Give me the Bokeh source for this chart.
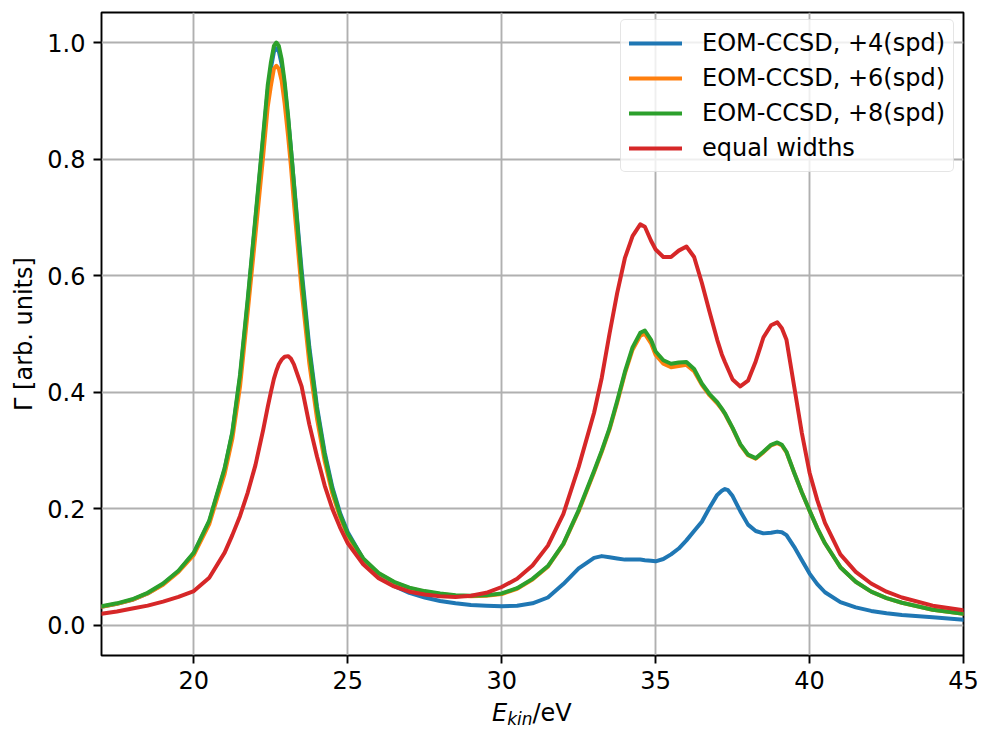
from bokeh.plotting import figure
from bokeh.models import Range1d, FixedTicker, PrintfTickFormatter, Legend, LegendItem, Div
from bokeh.layouts import column
from bokeh.embed import file_html
from bokeh.resources import INLINE

# Kinetic energy grid (eV)
energy = [17.0, 17.5, 18.0, 18.5, 19.0, 19.5, 20.0, 20.5, 21.0, 21.25,
          21.5, 21.75, 22.0, 22.25, 22.4, 22.5, 22.6, 22.68, 22.76, 22.85,
          22.95, 23.06, 23.15, 23.25, 23.5, 23.75, 24.0, 24.25, 24.5, 24.75,
          25.0, 25.5, 26.0, 26.5, 27.0, 27.5, 28.0, 28.5, 29.0, 29.5,
          30.0, 30.5, 31.0, 31.5, 32.0, 32.5, 33.0, 33.25, 33.5, 33.75,
          34.0, 34.25, 34.5, 34.65, 34.85, 35.0, 35.25, 35.5, 35.75, 36.0,
          36.25, 36.5, 36.75, 37.0, 37.15, 37.25, 37.35, 37.5, 37.75, 38.0,
          38.25, 38.5, 38.75, 38.95, 39.1, 39.25, 39.5, 39.75, 40.0, 40.25,
          40.5, 41.0, 41.5, 42.0, 42.5, 43.0, 44.0, 45.0]

eom_4spd = [0.032, 0.037, 0.044, 0.055, 0.071, 0.093, 0.124, 0.178, 0.268, 0.330,
            0.425, 0.555, 0.695, 0.835, 0.918, 0.955, 0.984, 0.990, 0.985, 0.963,
            0.925, 0.870, 0.820, 0.760, 0.610, 0.478, 0.375, 0.297, 0.237, 0.193,
            0.160, 0.114, 0.086, 0.068, 0.056, 0.048, 0.042, 0.038, 0.035, 0.034,
            0.033, 0.034, 0.038, 0.048, 0.071, 0.098, 0.116, 0.119, 0.117, 0.115,
            0.113, 0.113, 0.113, 0.112, 0.111, 0.110, 0.114, 0.122, 0.132, 0.146,
            0.162, 0.178, 0.202, 0.224, 0.231, 0.234, 0.232, 0.222, 0.196, 0.173,
            0.162, 0.158, 0.159, 0.161, 0.160, 0.155, 0.135, 0.112, 0.089, 0.071,
            0.057, 0.040, 0.031, 0.025, 0.021, 0.018, 0.014, 0.010]

eom_6spd = [0.032, 0.037, 0.044, 0.055, 0.070, 0.092, 0.121, 0.174, 0.260, 0.320,
            0.410, 0.538, 0.670, 0.805, 0.890, 0.925, 0.955, 0.960, 0.955, 0.935,
            0.895, 0.840, 0.790, 0.725, 0.575, 0.450, 0.355, 0.282, 0.226, 0.186,
            0.154, 0.112, 0.089, 0.074, 0.064, 0.058, 0.054, 0.051, 0.050, 0.051,
            0.054, 0.063, 0.079, 0.101, 0.139, 0.196, 0.263, 0.298, 0.336, 0.382,
            0.432, 0.473, 0.497, 0.500, 0.484, 0.464, 0.449, 0.443, 0.445, 0.447,
            0.436, 0.413, 0.395, 0.381, 0.371, 0.363, 0.353, 0.338, 0.310, 0.292,
            0.286, 0.297, 0.309, 0.313, 0.309, 0.297, 0.262, 0.228, 0.197, 0.167,
            0.141, 0.100, 0.075, 0.058, 0.047, 0.039, 0.027, 0.020]

eom_8spd = [0.033, 0.038, 0.045, 0.056, 0.072, 0.094, 0.125, 0.180, 0.270, 0.332,
            0.430, 0.560, 0.700, 0.840, 0.927, 0.965, 0.994, 1.000, 0.994, 0.972,
            0.932, 0.875, 0.820, 0.757, 0.600, 0.470, 0.370, 0.292, 0.233, 0.190,
            0.157, 0.115, 0.090, 0.075, 0.065, 0.059, 0.055, 0.052, 0.051, 0.052,
            0.055, 0.064, 0.080, 0.102, 0.140, 0.198, 0.265, 0.300, 0.338, 0.385,
            0.435, 0.477, 0.502, 0.506, 0.490, 0.470, 0.455, 0.449, 0.451, 0.452,
            0.440, 0.415, 0.397, 0.383, 0.372, 0.364, 0.354, 0.339, 0.311, 0.293,
            0.287, 0.298, 0.310, 0.314, 0.310, 0.298, 0.262, 0.228, 0.197, 0.167,
            0.141, 0.100, 0.075, 0.058, 0.047, 0.039, 0.027, 0.020]

equal_widths = [0.020, 0.024, 0.029, 0.034, 0.041, 0.049, 0.059, 0.082, 0.125, 0.155,
                0.188, 0.228, 0.275, 0.335, 0.375, 0.400, 0.423, 0.437, 0.448, 0.456,
                0.461, 0.462, 0.458, 0.448, 0.410, 0.345, 0.290, 0.240, 0.200, 0.168,
                0.141, 0.105, 0.081, 0.067, 0.058, 0.053, 0.050, 0.049, 0.051, 0.056,
                0.066, 0.080, 0.103, 0.137, 0.191, 0.272, 0.365, 0.425, 0.500, 0.570,
                0.630, 0.668, 0.688, 0.684, 0.660, 0.645, 0.632, 0.632, 0.643, 0.650,
                0.632, 0.588, 0.538, 0.490, 0.465, 0.452, 0.440, 0.422, 0.410, 0.420,
                0.453, 0.494, 0.515, 0.520, 0.510, 0.490, 0.410, 0.330, 0.262, 0.215,
                0.176, 0.122, 0.092, 0.072, 0.058, 0.048, 0.034, 0.026]

series_labels = ["EOM-CCSD, +4(spd)", "EOM-CCSD, +6(spd)", "EOM-CCSD, +8(spd)", "equal widths"]
series_colors = ["#1f77b4", "#ff7f0e", "#2ca02c", "#d62728"]
x_ticks = [20, 25, 30, 35, 40, 45]
y_ticks = [0.0, 0.2, 0.4, 0.6, 0.8, 1.0]

all_series = [eom_4spd, eom_6spd, eom_8spd, equal_widths]
for s in all_series:
    assert len(s) == len(energy), (len(s), len(energy))

FONT = "DejaVu Sans"
FS = "24px"

p = figure(width=981, height=699, output_backend="svg", toolbar_location=None,
           x_range=Range1d(17, 45), y_range=Range1d(-0.0515, 1.0515),
           min_border_left=101, min_border_right=18, min_border_top=12, min_border_bottom=44)
p.background_fill_color = "white"
p.border_fill_color = "white"
p.outline_line_color = "black"
p.outline_line_width = 1.9

renderers = []
for ys, lab, col in zip(all_series, series_labels, series_colors):
    r = p.line(energy, ys, line_color=col, line_width=4.0, line_join="round", line_cap="round")
    renderers.append((lab, [r]))

for g in (p.xgrid, p.ygrid):
    g.grid_line_color = "#b0b0b0"
    g.grid_line_width = 1.9
p.xgrid.ticker = FixedTicker(ticks=x_ticks)
p.ygrid.ticker = FixedTicker(ticks=y_ticks)

for ax in (p.xaxis, p.yaxis):
    ax.axis_line_color = None
    ax.major_tick_line_color = "black"
    ax.major_tick_line_width = 1.9
    ax.major_tick_out = 8
    ax.major_tick_in = 0
    ax.minor_tick_line_color = None
    ax.major_label_text_font = FONT
    ax.major_label_text_font_size = FS
    ax.major_label_text_color = "black"
    ax.major_label_standoff = 8
p.xaxis.major_label_standoff = 7

p.xaxis.ticker = FixedTicker(ticks=x_ticks)
p.yaxis.ticker = FixedTicker(ticks=y_ticks)
p.yaxis.formatter = PrintfTickFormatter(format="%.1f")

p.yaxis.axis_label = "Γ [arb. units]"
p.yaxis.axis_label_text_font = FONT
p.yaxis.axis_label_text_font_size = FS
p.yaxis.axis_label_text_font_style = "normal"
p.yaxis.axis_label_text_color = "black"
p.yaxis.axis_label_standoff = 6

legend = Legend(items=[LegendItem(label=l, renderers=r) for l, r in renderers],
                location=(519, 483), margin=0, padding=8, spacing=5,
                glyph_width=53, glyph_height=30, label_height=30, label_standoff=20,
                label_text_font=FONT, label_text_font_size=FS, label_text_color="black",
                border_line_color="#cccccc", border_line_width=1.9,
                background_fill_color="white", background_fill_alpha=0.8)
try:
    legend.border_radius = 5
except Exception:
    pass
p.add_layout(legend)

# x-axis label  E_kin/eV  as real HTML text below the tick labels
xlabel = Div(
    text=('<div style="margin:0;padding:0 0 0 492px;font-family:\'DejaVu Sans\';'
          'font-size:24px;line-height:28px;color:#000;white-space:nowrap;">'
          '<span style="font-style:italic;">E</span>'
          '<span style="font-style:italic;font-size:17px;position:relative;top:4px;">kin</span>'
          '/eV</div>'),
    width=981, height=29, margin=(0, 0, 0, 0))

layout = column(p, xlabel, spacing=0)

open("out.html", "w").write(file_html(layout, INLINE))
